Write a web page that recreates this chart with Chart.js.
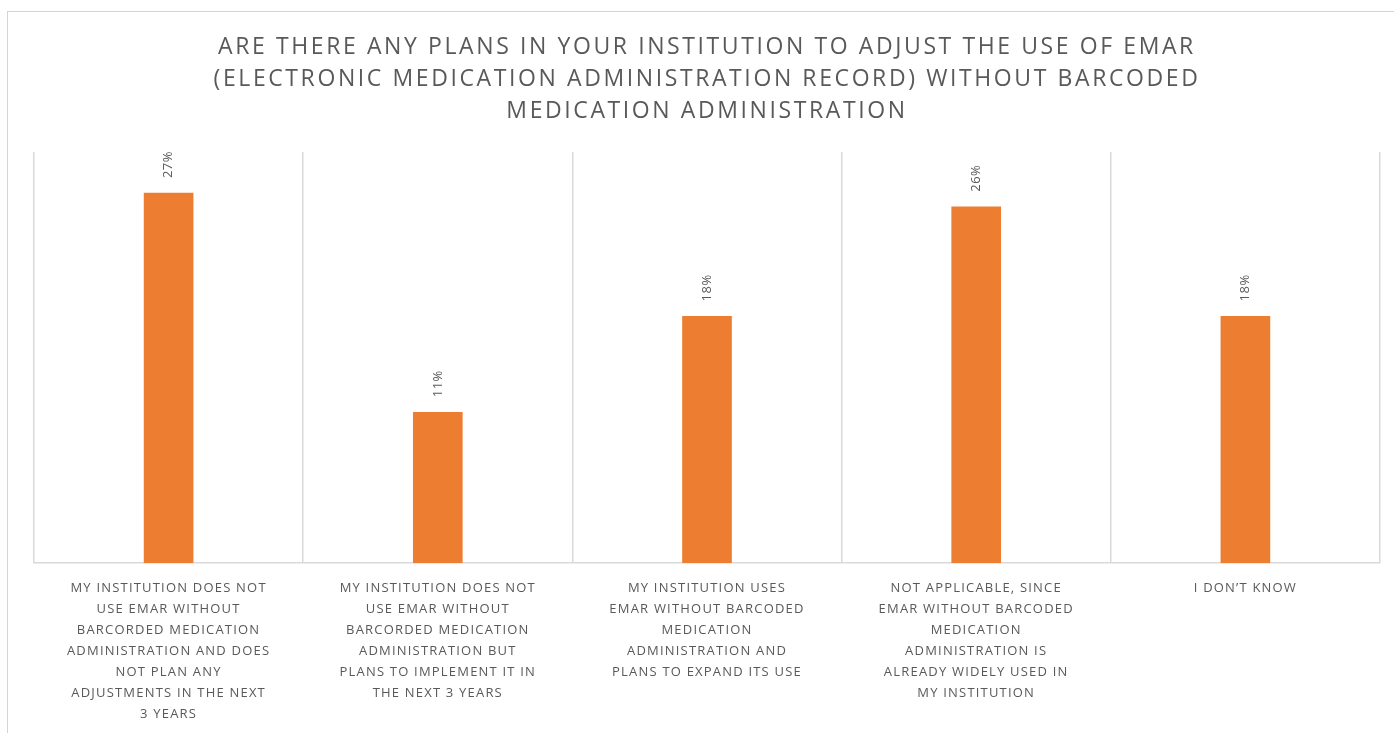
<!DOCTYPE html>
<html>
<head>
<meta charset="utf-8">
<script src="https://cdn.jsdelivr.net/npm/chart.js@4"></script>
<style>
  html, body { margin: 0; padding: 0; background: #fff; }
  #wrap { position: relative; width: 1394px; height: 733px; overflow: hidden; }
  #frame { position: absolute; left: 7px; top: 11px; width: 1400px; height: 740px; border: 1.5px solid #d4d4d4; box-sizing: border-box; }
  #survey { position: absolute; left: 0; top: 0; }
</style>
</head>
<body>
<div id="wrap">
  <div id="frame"></div>
  <canvas id="survey" width="1394" height="733"></canvas>
</div>
<script>
"use strict";

const titleLines = [
    "ARE THERE ANY PLANS IN YOUR INSTITUTION TO ADJUST THE USE OF EMAR",
    "(ELECTRONIC MEDICATION ADMINISTRATION RECORD) WITHOUT BARCODED",
    "MEDICATION ADMINISTRATION"
];

const answers = [
    ["MY INSTITUTION DOES NOT", "USE EMAR WITHOUT", "BARCORDED MEDICATION", "ADMINISTRATION AND DOES", "NOT PLAN ANY", "ADJUSTMENTS IN THE NEXT", "3 YEARS"],
    ["MY INSTITUTION DOES NOT", "USE EMAR WITHOUT", "BARCORDED MEDICATION", "ADMINISTRATION BUT", "PLANS TO IMPLEMENT IT IN", "THE NEXT 3 YEARS"],
    ["MY INSTITUTION USES", "EMAR WITHOUT BARCODED", "MEDICATION", "ADMINISTRATION AND", "PLANS TO EXPAND ITS USE"],
    ["NOT APPLICABLE, SINCE", "EMAR WITHOUT BARCODED", "MEDICATION", "ADMINISTRATION IS", "ALREADY WIDELY USED IN", "MY INSTITUTION"],
    ["I DON\u2019T KNOW"]
];

const shares = [27, 11, 18, 26, 18];

const scaleMax = 30;

const textGrey = "#595959";
const gridGrey = "#d9d9d9";
const orange = "#ed7d31";

// canvas text gets a little tracking, like the office chart styles
const tracking = {
    id: "tracking",
    beforeLayout(chart) { chart.ctx.letterSpacing = "1.2px"; },
    beforeDraw(chart) { chart.ctx.letterSpacing = "1.2px"; }
};

// percentage written sideways above each bar
const barValues = {
    id: "barValues",
    afterDatasetsDraw(chart) {
        const ctx = chart.ctx;
        const meta = chart.getDatasetMeta(0);
        ctx.save();
        ctx.font = '13px "Open Sans"';
        ctx.fillStyle = textGrey;
        ctx.letterSpacing = "0.5px";
        ctx.textAlign = "left";
        ctx.textBaseline = "middle";
        meta.data.forEach((bar, i) => {
            ctx.save();
            ctx.translate(bar.x, bar.y - 15);
            ctx.rotate(-Math.PI / 2);
            ctx.fillText(shares[i] + "%", 0, 0);
            ctx.restore();
        });
        ctx.restore();
    }
};

const chart = new Chart(document.getElementById("survey"), {
    type: "bar",
    data: {
        labels: answers,
        datasets: [{
            data: shares,
            backgroundColor: orange,
            borderWidth: 0,
            barThickness: 49
        }]
    },
    options: {
        responsive: false,
        animation: false,
        layout: { padding: { left: 34, right: 14, top: 0, bottom: 0 } },
        plugins: {
            legend: { display: false },
            tooltip: { enabled: false },
            title: {
                display: true,
                text: titleLines,
                color: textGrey,
                font: { family: '"Open Sans"', size: 23, weight: "normal", lineHeight: 32 / 23 },
                padding: { top: 31, bottom: 25 }
            }
        },
        scales: {
            x: {
                grid: { offset: true, color: gridGrey, lineWidth: 1.5, drawTicks: false },
                border: { color: gridGrey, width: 1.5 },
                ticks: {
                    color: textGrey,
                    font: { family: '"Open Sans"', size: 13, lineHeight: 21 / 13 },
                    padding: 15,
                    autoSkip: false,
                    maxRotation: 0
                },
                afterFit(scale) { scale.height = 170; }
            },
            y: {
                display: false,
                min: 0,
                max: scaleMax
            }
        }
    },
    plugins: [tracking, barValues]
});

// the heading is tracked wider than the rest of the text
const heading = chart.titleBlock;
const drawHeading = heading.draw.bind(heading);
heading.draw = function (area) {
    chart.ctx.letterSpacing = "2.6px";
    drawHeading(area);
    chart.ctx.letterSpacing = "1.2px";
};
chart.draw();
</script>
</body>
</html>
